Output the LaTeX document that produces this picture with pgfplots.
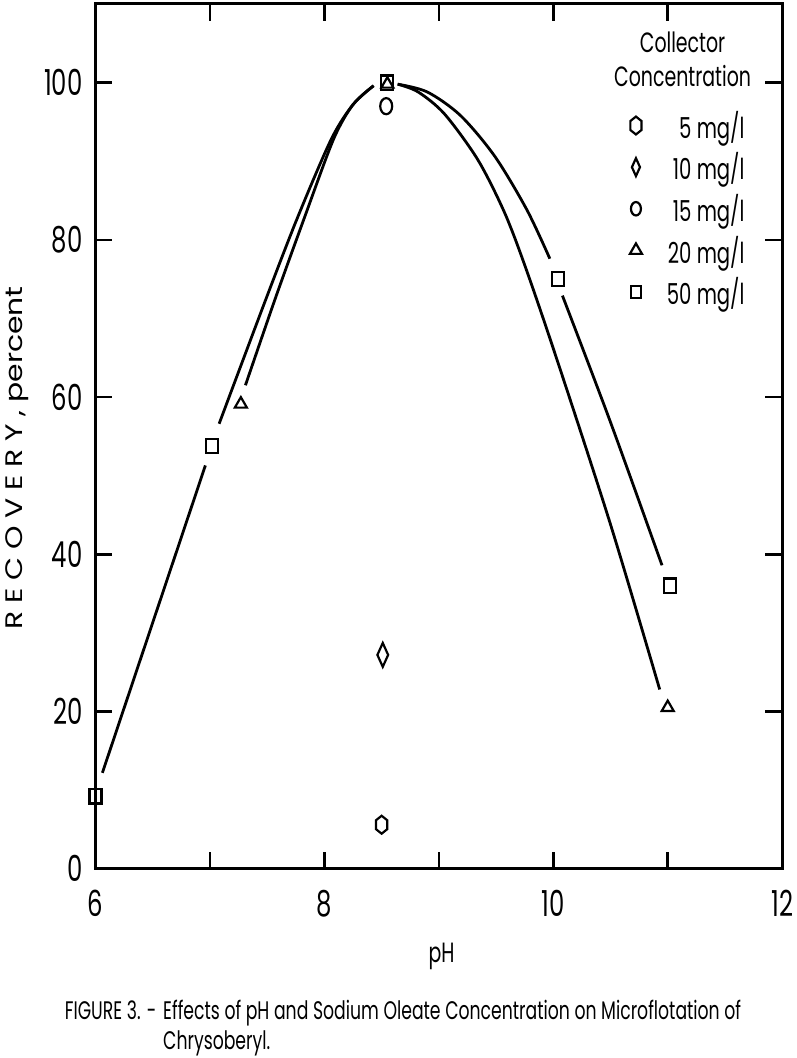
\documentclass[border=0pt]{standalone}
\usepackage{fontspec}
\setmainfont{Poppins}[FakeStretch=0.68]
\newfontfamily\capsfont{Poppins}[LetterSpace=26]
\newfontfamily\lowfont{Poppins}
\usepackage{graphicx}
\usepackage{pgfplots}
\pgfplotsset{compat=1.18}

% pointy-top hexagon mark
\pgfdeclareplotmark{hexagon}{%
  \pgfpathmoveto{\pgfqpoint{0pt}{\pgfplotmarksize}}%
  \pgfpathlineto{\pgfqpoint{0.866\pgfplotmarksize}{0.5\pgfplotmarksize}}%
  \pgfpathlineto{\pgfqpoint{0.866\pgfplotmarksize}{-0.5\pgfplotmarksize}}%
  \pgfpathlineto{\pgfqpoint{0pt}{-\pgfplotmarksize}}%
  \pgfpathlineto{\pgfqpoint{-0.866\pgfplotmarksize}{-0.5\pgfplotmarksize}}%
  \pgfpathlineto{\pgfqpoint{-0.866\pgfplotmarksize}{0.5\pgfplotmarksize}}%
  \pgfpathclose
  \pgfusepathqstroke}

\begin{document}
\begin{tikzpicture}
\begin{axis}[name=ax, at={(0,0)}, anchor=south west,
  scale only axis, width=690pt, height=869pt,
  xmin=6, xmax=12, ymin=0, ymax=110,
  xtick={6,8,10,12}, minor xtick={7,9,11},
  ytick={0,20,...,100},
  xtick pos=both, ytick pos=both,
  tick align=inside, major tick length=17pt, minor tick length=17pt,
  tick style={draw=black, line width=2.5pt},
  minor tick style={draw=black, line width=2.5pt},
  axis line style={line width=3pt},
  /pgf/number format/assume math mode=true,
  tick label style={font=\fontsize{36}{40}\selectfont},
  xticklabel style={anchor=center, yshift=-35pt},
  yticklabel style={anchor=east, inner sep=0pt, xshift=-13pt},
  xlabel={pH},
  xlabel style={font=\fontsize{28}{32}\selectfont, at={(axis description cs:0.504,-0.101)}, anchor=center},
  ylabel={\scalebox{1}[0.8]{\capsfont RECOVERY,\lowfont\ percent}},
  ylabel style={font=\fontsize{30}{34}\selectfont, at={(axis description cs:-0.1145,0.475)}, anchor=center},
  clip=false,
  legend style={at={(axis description cs:0.954,0.882)}, anchor=north east,
    draw=none, fill=none, font=\fontsize{29}{33}\selectfont,
    cells={anchor=east},
    nodes={inner sep=3pt}, row sep=7pt,
    /tikz/every odd column/.append style={column sep=22pt}},
]
% marks, one plot per collector concentration
\addplot[only marks, mark=hexagon, mark size=9pt, line width=2.2pt,
  mark options={xscale=0.72}] coordinates {(8.5,5.6)};
\addlegendentry{5 mg/l}
\addplot[only marks, mark=diamond, mark size=12pt, line width=2.2pt,
  mark options={xscale=0.6}, legend image post style={mark size=9pt}]
  coordinates {(8.51,27.2)};
\addlegendentry{10 mg/l}
\addplot[only marks, mark=o, mark size=6pt, line width=2.2pt,
  mark options={yscale=1.35}, legend image post style={mark size=5pt}]
  coordinates {(8.54,97)};
\addlegendentry{15 mg/l}
\addplot[only marks, mark=triangle, mark size=7pt, line width=2.2pt]
  coordinates {(7.27,59.1) (8.55,99.8) (11,20.5)};
\addlegendentry{20 mg/l}
\addplot[only marks, mark=square, mark size=6pt, line width=2.2pt,
  mark options={yscale=1.2}, legend image post style={mark size=5pt}]
  coordinates {(6,9.2) (7.02,53.8) (8.55,100) (10.04,75) (11.02,36)};
\addlegendentry{50 mg/l}

% 50 mg/l curve, broken at the marks
\addplot[line width=2.8pt, forget plot] coordinates {(6.06,12.2) (6.96,51.3)};
\addplot[line width=2.8pt, smooth, tension=0.5, forget plot] coordinates {
  (7.08,56.6) (7.49,72.5) (7.77,83.0) (8.06,92.8) (8.25,97.2) (8.43,99.6)};
\addplot[line width=2.8pt, smooth, tension=0.5, forget plot] coordinates {
  (8.64,99.8) (8.90,98.8) (9.19,95.8) (9.49,90.6) (9.77,83.8) (9.97,77.6)};
\addplot[line width=2.8pt, smooth, tension=0.5, forget plot] coordinates {
  (10.08,72.9) (10.5,56.8) (10.95,38.6)};

% 20 mg/l curve
\addplot[line width=2.8pt, smooth, tension=0.5, forget plot] coordinates {
  (7.31,61.5) (7.57,72.5) (7.83,83.0) (8.08,92.8) (8.25,97.2) (8.43,99.6)};
\addplot[line width=2.8pt, smooth, tension=0.5, forget plot] coordinates {
  (8.64,99.8) (8.82,98.8) (9.05,96.0) (9.34,90.2) (9.57,83.6) (9.75,76.8)
  (10.02,65.3) (10.5,43.8) (10.93,22.8)};

\node[align=center, font=\fontsize{28}{34}\selectfont]
  at (axis description cs:0.855,0.936) {Collector\\Concentration};
\end{axis}
\node[anchor=north west, inner sep=0pt, font=\fontsize{25.5}{30}\selectfont]
  at ([shift={(-31pt,-130pt)}]ax.south west)
  {\begin{tabular}{@{}l@{\hspace{7pt}}l@{}}FIGURE 3. - & Effects of pH and Sodium Oleate Concentration on Microflotation of\\
   & Chrysoberyl.\end{tabular}};
\path (ax.south west) ++(-96pt,-185pt) rectangle ++(800pt,1058pt);
\end{tikzpicture}
\end{document}
